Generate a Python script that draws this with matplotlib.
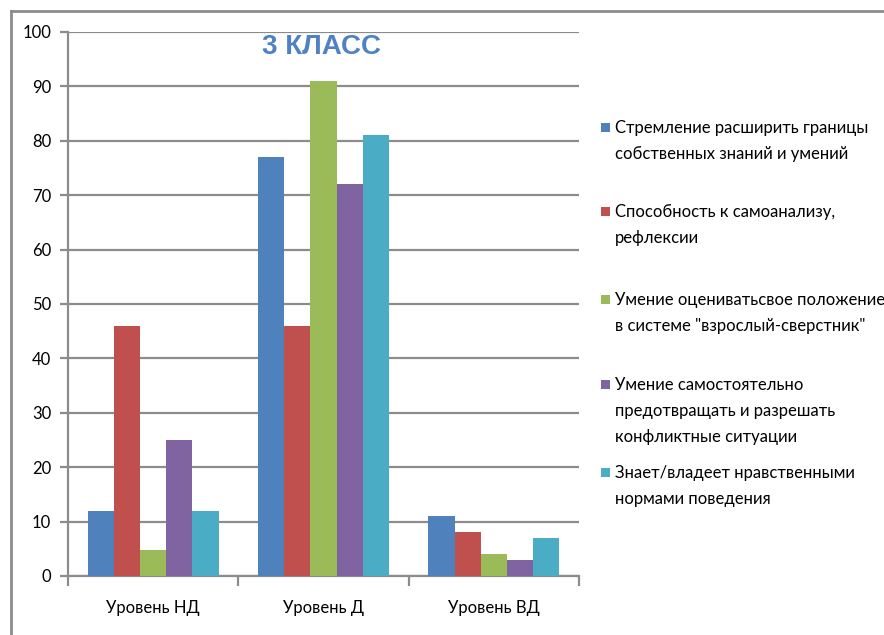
import matplotlib
matplotlib.use("Agg")
import matplotlib.pyplot as plt
import numpy as np
from matplotlib.patches import Rectangle
from matplotlib.lines import Line2D

categories = ["Уровень НД", "Уровень Д", "Уровень ВД"]
series_names = [
    "Стремление расширить границы\nсобственных знаний и умений",
    "Способность к самоанализу,\nрефлексии",
    "Умение оцениватьсвое положение\nв системе \"взрослый-сверстник\"",
    "Умение самостоятельно\nпредотвращать и разрешать\nконфликтные ситуации",
    "Знает/владеет нравственными\nнормами поведения",
]
values = [
    [12, 77, 11],
    [46, 46, 8],
    [4.8, 91, 4],
    [25, 72, 3],
    [12, 81, 7],
]
colors = ["#4F81BD", "#C0504D", "#9BBB59", "#8064A2", "#4BACC6"]
yticks = [0, 10, 20, 30, 40, 50, 60, 70, 80, 90, 100]
title = "3 КЛАСС"

plt.rcParams['font.family'] = ['Lato', 'DejaVu Sans']

W, H = 884, 635
fig = plt.figure(figsize=(W / 100, H / 100), dpi=100)
fig.patch.set_facecolor("white")

def fx(px):
    return px / W

def fy(py):
    return 1 - py / H

ax = fig.add_axes([fx(68), fy(576), fx(579) - fx(68), fy(32) - fy(576)])

n = len(series_names)
bw = 1 / 6.5
x = np.arange(len(categories))
for i in range(n):
    offs = (i - (n - 1) / 2) * bw
    ax.bar(x + offs, values[i], width=bw, color=colors[i], zorder=3)

ax.set_xlim(-0.5, len(categories) - 0.5)
ax.set_ylim(0, 100)
ax.set_yticks(yticks)
ax.set_yticklabels([str(t) for t in yticks], fontsize=12)
gc = "#8C8C8C"
ax.yaxis.grid(True, color=gc, linewidth=1.6, zorder=0)
ax.set_axisbelow(True)
for s in ["top", "right"]:
    ax.spines[s].set_visible(False)
for s in ["left", "bottom"]:
    ax.spines[s].set_color(gc)
    ax.spines[s].set_linewidth(1.6)
ax.tick_params(axis="y", length=6, width=1.6, color=gc, pad=6)
ax.set_xticks(np.arange(len(categories) + 1) - 0.5)
ax.set_xticklabels([])
ax.tick_params(axis="x", length=7, width=1.6, color=gc)
for i, c in enumerate(categories):
    ax.text(i, -5.8, c, ha="center", va="center", fontsize=12, transform=ax.transData)

fig.text(fx(322), fy(47), title, ha="center", va="center", fontsize=20,
         fontweight="bold", color="#4F81C4", family=["Liberation Sans", "DejaVu Sans"])

# outer frame (cropped at right and bottom)
fig.add_artist(Line2D([fx(11), fx(11)], [fy(11), fy(640)], color="#8C8C8C", lw=2))
fig.add_artist(Line2D([fx(11), fx(890)], [fy(11), fy(11)], color="#8C8C8C", lw=2))

# legend
first_line_y = [128, 212, 300, 385, 473]
line_h = 26
for i, name in enumerate(series_names):
    y0 = first_line_y[i]
    fig.add_artist(Rectangle((fx(601), fy(y0 + 4)), fx(9), fy(y0 - 5) - fy(y0 + 4),
                             facecolor=colors[i], edgecolor="none"))
    for j, line in enumerate(name.split("\n")):
        fig.text(fx(615), fy(y0 + j * line_h), line, ha="left", va="center", fontsize=12)

fig.savefig("out.png", dpi=100, facecolor="white")
